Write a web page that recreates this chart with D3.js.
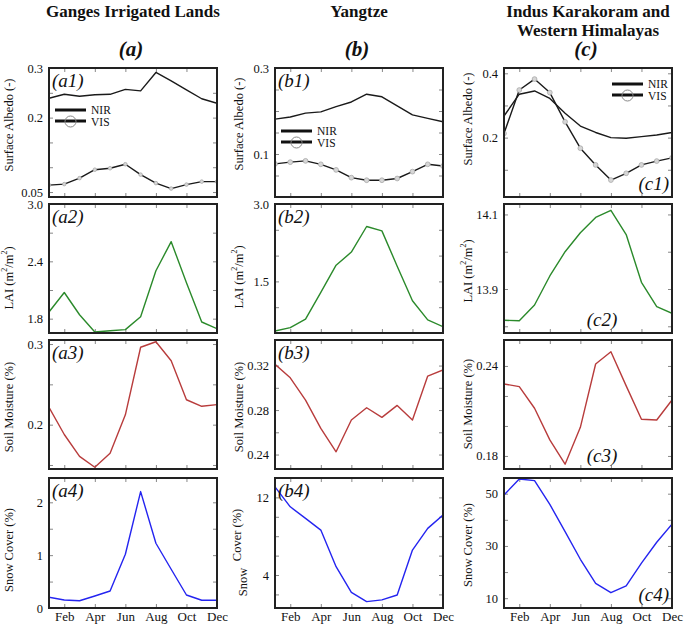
<!DOCTYPE html>
<html><head><meta charset="utf-8">
<script src="https://cdn.jsdelivr.net/npm/d3@7"></script>
<style>
html,body{margin:0;padding:0;background:#fff;}
svg{display:block;}
svg text{font-family:"Liberation Serif","Times New Roman",serif !important;}
</style></head>
<body>
<svg id="chart" width="685" height="625"></svg>
<script>
// ---------- data ----------
const months = ["Jan","Feb","Mar","Apr","May","Jun","Jul","Aug","Sep","Oct","Nov","Dec"];
const xTickLabels = ["Feb","Apr","Jun","Aug","Oct","Dec"];
const regions = ["Ganges Irrigated Lands","Yangtze","Indus Karakoram and|Western Himalayas"];
const regionTags = ["(a)","(b)","(c)"];

const albedoNIR_ganges  = [0.239,0.247,0.243,0.246,0.247,0.257,0.254,0.291,0.274,0.256,0.238,0.229];
const albedoVIS_ganges  = [0.064,0.066,0.078,0.095,0.098,0.106,0.085,0.068,0.057,0.065,0.071,0.071];
const albedoNIR_yangtze = [0.181,0.186,0.195,0.198,0.210,0.221,0.239,0.233,0.212,0.191,0.183,0.175];
const albedoVIS_yangtze = [0.077,0.081,0.084,0.076,0.063,0.045,0.039,0.039,0.043,0.059,0.076,0.072];
const albedoNIR_indus   = [0.267,0.335,0.345,0.322,0.276,0.236,0.216,0.200,0.198,0.203,0.208,0.216];
const albedoVIS_indus   = [0.213,0.348,0.382,0.340,0.249,0.167,0.115,0.068,0.089,0.115,0.127,0.137];

const lai_ganges  = [1.870,2.074,1.841,1.661,1.674,1.685,1.820,2.301,2.606,2.175,1.765,1.695];
const lai_yangtze = [0.539,0.604,0.768,1.287,1.814,2.068,2.564,2.479,1.795,1.125,0.754,0.623];
const lai_indus   = [13.816,13.815,13.857,13.935,14.000,14.051,14.092,14.111,14.046,13.918,13.853,13.835];

const sm_ganges  = [0.2216,0.1878,0.1606,0.1472,0.1646,0.2122,0.2960,0.3028,0.2793,0.2309,0.2228,0.2248];
const sm_yangtze = [0.3211,0.3090,0.2890,0.2635,0.2425,0.2710,0.2821,0.2734,0.2842,0.2710,0.3106,0.3160];
const sm_indus   = [0.2280,0.2262,0.2118,0.1907,0.1745,0.1991,0.2413,0.2495,0.2267,0.2045,0.2040,0.2173];

const snow_ganges  = [0.203,0.152,0.138,0.227,0.322,1.017,2.203,1.225,0.733,0.246,0.146,0.146];
const snow_yangtze = [13.09,11.03,9.84,8.63,4.86,2.22,1.26,1.44,1.94,6.57,8.81,10.18];
const snow_indus   = [49.5,55.6,55.0,45.9,35.5,24.9,15.7,12.1,14.7,23.4,31.4,38.3];

// y tick values (all inner ticks) and labelled ticks
const yTicks_a1 = [0.05,0.1,0.15,0.2,0.25,0.3],  yLabels_a1 = [0.05,0.2,0.3];
const yTicks_b1 = [0.05,0.1,0.15,0.2,0.25,0.3],  yLabels_b1 = [0.1,0.3];
const yTicks_c1 = [0.1,0.2,0.3,0.4],             yLabels_c1 = [0.2,0.4];
const yTicks_a2 = [1.8,2.1,2.4,2.7,3.0],         yLabels_a2 = [1.8,2.4,3.0];
const yTicks_b2 = [0.5,1.0,1.5,2.0,2.5,3.0],     yLabels_b2 = [1.5,3.0];
const yTicks_c2 = [13.8,13.9,14.0,14.1],         yLabels_c2 = [13.9,14.1];
const yTicks_a3 = [0.15,0.2,0.25,0.3],           yLabels_a3 = [0.2,0.3];
const yTicks_b3 = [0.24,0.26,0.28,0.30,0.32],    yLabels_b3 = [0.24,0.28,0.32];
const yTicks_c3 = [0.18,0.20,0.22,0.24],         yLabels_c3 = [0.18,0.24];
const yTicks_a4 = [0,0.5,1,1.5,2],               yLabels_a4 = [0,1,2];
const yTicks_b4 = [2,4,6,8,10,12],               yLabels_b4 = [4,12];
const yTicks_c4 = [10,20,30,40,50],              yLabels_c4 = [10,30,50];

// ---------- layout / style ----------
const colX = [49, 275, 504], panelW = 168;
const rowY = [[68,197],[204,333],[340,469],[478,608]];
const black = "#1a1a1a", green = "#2b8a2b", red = "#b83c3c", blue = "#2424f0";
const serif = '"Liberation Serif","Times New Roman",serif';

const panels = [
  {c:0,r:0,dom:[0.04,0.3],ticks:yTicks_a1,labels:yLabels_a1,fmt:d=>d===0.05?"0.05":d3.format(".1f")(d),tag:"(a1)",
   series:[{v:albedoNIR_ganges,col:black},{v:albedoVIS_ganges,col:black,mk:1.8}], legend:{x:55,y:110}},
  {c:1,r:0,dom:[0,0.3],ticks:yTicks_b1,labels:yLabels_b1,fmt:d3.format(".1f"),tag:"(b1)",
   series:[{v:albedoNIR_yangtze,col:black},{v:albedoVIS_yangtze,col:black,mk:2.4}], legend:{x:281,y:131}},
  {c:2,r:0,dom:[0.0153,0.4165],ticks:yTicks_c1,labels:yLabels_c1,fmt:d3.format(".1f"),tag:"(c1)",tagPos:"br",
   series:[{v:albedoNIR_indus,col:black},{v:albedoVIS_indus,col:black,mk:2.4}], legend:{x:612,y:84}},
  {c:0,r:1,dom:[1.65,3.0],ticks:yTicks_a2,labels:yLabels_a2,fmt:d3.format(".1f"),tag:"(a2)",series:[{v:lai_ganges,col:green}]},
  {c:1,r:1,dom:[0.5,3.0],ticks:yTicks_b2,labels:yLabels_b2,fmt:d3.format(".1f"),tag:"(b2)",series:[{v:lai_yangtze,col:green}]},
  {c:2,r:1,dom:[13.782,14.128],ticks:yTicks_c2,labels:yLabels_c2,fmt:d3.format(".1f"),tag:"(c2)",tagPos:"bc",series:[{v:lai_indus,col:green}]},
  {c:0,r:2,dom:[0.145,0.305],ticks:yTicks_a3,labels:yLabels_a3,fmt:d3.format(".1f"),tag:"(a3)",series:[{v:sm_ganges,col:red}]},
  {c:1,r:2,dom:[0.227,0.343],ticks:yTicks_b3,labels:yLabels_b3,fmt:d3.format(".2f"),tag:"(b3)",series:[{v:sm_yangtze,col:red}]},
  {c:2,r:2,dom:[0.1713,0.2573],ticks:yTicks_c3,labels:yLabels_c3,fmt:d3.format(".2f"),tag:"(c3)",tagPos:"bc",series:[{v:sm_indus,col:red}]},
  {c:0,r:3,dom:[0,2.46],ticks:yTicks_a4,labels:yLabels_a4,fmt:d3.format("d"),tag:"(a4)",series:[{v:snow_ganges,col:blue}]},
  {c:1,r:3,dom:[0.6,14],ticks:yTicks_b4,labels:yLabels_b4,fmt:d3.format("d"),tag:"(b4)",series:[{v:snow_yangtze,col:blue}]},
  {c:2,r:3,dom:[6.25,56],ticks:yTicks_c4,labels:yLabels_c4,fmt:d3.format("d"),tag:"(c4)",tagPos:"br",series:[{v:snow_indus,col:blue}]}
];

const svg = d3.select("#chart");
const defs = svg.append("defs");

// headers
const headerCx = [133, 359, 588];
regions.forEach((name,i)=>{
  const lines = name.split("|");
  lines.forEach((ln,j)=>{
    svg.append("text").attr("x",headerCx[i]).attr("y",17+j*19).attr("text-anchor","middle")
      .attr("font-family",serif).attr("font-weight","bold").attr("font-size",17).attr("fill","#111").text(ln);
  });
  svg.append("text").attr("x",headerCx[i]-2).attr("y",56).attr("text-anchor","middle")
    .attr("font-family",serif).attr("font-weight","bold").attr("font-style","italic").attr("font-size",21).attr("fill","#111").text(regionTags[i]);
});

// y-axis titles
const yTitleX = [9, 239, 468];
const yTitleCy = [[125,124,119],[278,277,271],[407,407,404],[550,550,545]];
const rowTitles = ["Surface Albedo (-)","LAI","Soil Moisture (%)","Snow Cover (%)"];

panels.forEach((p,pi)=>{
  const x0 = colX[p.c], x1 = x0+panelW, y0 = rowY[p.r][0], y1 = rowY[p.r][1];
  const x = d3.scalePoint().domain(months).range([x0,x1]);
  const y = d3.scaleLinear().domain(p.dom).range([y1,y0]);
  const g = svg.append("g");

  const cid = "clip"+pi;
  defs.append("clipPath").attr("id",cid).append("rect").attr("x",x0).attr("y",y0).attr("width",panelW).attr("height",y1-y0);

  // inner ticks: left and right (y), top and bottom (x)
  const tl = 4;
  const xt = d3.axisBottom(x).tickValues(xTickLabels.filter(m=>m!=="Dec")).tickSize(tl).tickFormat("");
  g.append("g").attr("transform",`translate(0,${y0})`).call(xt).call(s=>s.select(".domain").remove())
    .selectAll("line").attr("stroke","#888");
  const xb = d3.axisTop(x).tickValues(xTickLabels.filter(m=>m!=="Dec")).tickSize(tl).tickFormat("");
  g.append("g").attr("transform",`translate(0,${y1})`).call(xb).call(s=>s.select(".domain").remove())
    .selectAll("line").attr("stroke","#888");
  const yl = d3.axisRight(y).tickValues(p.ticks).tickSize(tl).tickFormat("");
  g.append("g").attr("transform",`translate(${x0},0)`).call(yl).call(s=>s.select(".domain").remove())
    .selectAll("line").attr("stroke","#888");
  const yr = d3.axisLeft(y).tickValues(p.ticks).tickSize(tl).tickFormat("");
  g.append("g").attr("transform",`translate(${x1},0)`).call(yr).call(s=>s.select(".domain").remove())
    .selectAll("line").attr("stroke","#888");

  // y tick labels
  const ya = d3.axisLeft(y).tickValues(p.labels).tickSize(0).tickPadding(6).tickFormat(p.fmt);
  const yag = g.append("g").attr("transform",`translate(${x0},0)`).call(ya)
    .attr("font-family",serif).attr("font-size",12.5);
  yag.select(".domain").remove();
  yag.selectAll("text").attr("font-family",serif).attr("font-size",12.5).attr("fill","#111");

  // x tick labels on bottom row
  if (p.r===3){
    const xa = d3.axisBottom(x).tickValues(xTickLabels).tickSize(0).tickPadding(4);
    const xag = g.append("g").attr("transform",`translate(0,${y1})`).call(xa)
      .attr("font-family",serif).attr("font-size",13);
    xag.select(".domain").remove();
    xag.selectAll("text").attr("font-family",serif).attr("font-size",13).attr("fill","#111");
  }

  // data lines
  const line = d3.line().x((d,i)=>x(months[i])).y(d=>y(d));
  const lg = g.append("g").attr("clip-path",`url(#${cid})`);
  p.series.forEach(s=>{
    lg.append("path").datum(s.v).attr("d",line).attr("fill","none").attr("stroke",s.col)
      .attr("stroke-width",1.4).attr("stroke-linejoin","round");
    if (s.mk){
      lg.selectAll(null).data(s.v).enter().append("circle")
        .attr("cx",(d,i)=>x(months[i])).attr("cy",d=>y(d)).attr("r",s.mk)
        .attr("fill","#d6d6d6").attr("stroke","#a8a8a8").attr("stroke-width",0.8);
    }
  });

  // frame
  g.append("rect").attr("x",x0).attr("y",y0).attr("width",panelW).attr("height",y1-y0)
    .attr("fill","none").attr("stroke","#222").attr("stroke-width",2);

  // panel tag
  let tx = x0+3, ty = y0+19, anchor = "start";
  if (p.tagPos==="br"){ tx = x1-3; ty = y1-7; anchor = "end"; }
  if (p.tagPos==="bc"){ tx = x0+(panelW/2)+14; ty = y1-7; anchor = "middle"; }
  g.append("text").attr("x",tx).attr("y",ty).attr("text-anchor",anchor).attr("font-family",serif)
    .attr("font-style","italic").attr("font-size",19).attr("fill","#111").text(p.tag);

  // legend
  if (p.legend){
    const lx = p.legend.x, ly = p.legend.y, len = 31;
    g.append("line").attr("x1",lx).attr("x2",lx+len).attr("y1",ly).attr("y2",ly).attr("stroke","#111").attr("stroke-width",3);
    g.append("line").attr("x1",lx).attr("x2",lx+len).attr("y1",ly+11).attr("y2",ly+11).attr("stroke","#111").attr("stroke-width",3);
    g.append("circle").attr("cx",lx+len/2).attr("cy",ly+11.5).attr("r",5.5).attr("fill","none").attr("stroke","#888").attr("stroke-width",1);
    g.append("text").attr("x",lx+len+5).attr("y",ly+4).attr("font-family",serif).attr("font-size",11.5).attr("fill","#111").text("NIR");
    g.append("text").attr("x",lx+len+5).attr("y",ly+16).attr("font-family",serif).attr("font-size",11.5).attr("fill","#111").text("VIS");
  }

  // y axis title
  const tX = yTitleX[p.c], tY = yTitleCy[p.r][p.c];
  const t = svg.append("text").attr("transform",`translate(${tX},${tY}) rotate(-90)`).attr("font-family",serif)
    .attr("text-anchor","middle").attr("dominant-baseline","central").attr("font-size",12.5).attr("fill","#111");
  if (p.r===1){
    t.append("tspan").text("LAI (m");
    t.append("tspan").attr("font-size",8).attr("dy",-5).text("2");
    t.append("tspan").attr("dy",5).text("/m");
    t.append("tspan").attr("font-size",8).attr("dy",-5).text("2");
    t.append("tspan").attr("dy",5).text(")");
  } else if (p.r===3 && p.c===1){
    t.remove();
    svg.append("text").attr("transform",`translate(237,535) rotate(-90)`).attr("text-anchor","middle").attr("font-family",serif)
      .attr("dominant-baseline","central").attr("font-size",12.5).attr("fill","#111").text("Cover (%)");
    svg.append("text").attr("transform",`translate(243,582) rotate(-90)`).attr("text-anchor","middle").attr("font-family",serif)
      .attr("dominant-baseline","central").attr("font-size",12.5).attr("fill","#111").text("Snow");
  } else {
    t.text(rowTitles[p.r]);
  }
});
</script>
</body></html>
